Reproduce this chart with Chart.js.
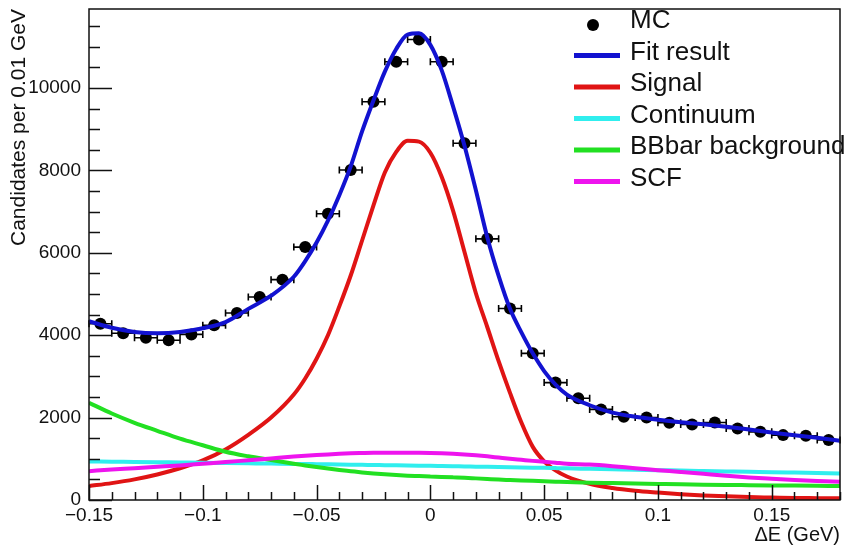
<!DOCTYPE html>
<html>
<head>
<meta charset="utf-8">
<script src="https://cdn.jsdelivr.net/npm/chart.js@4/dist/chart.umd.min.js"></script>
<style>
  html, body { margin: 0; padding: 0; background: #fff; }
  #idCanv_dE { display: block; }
</style>
</head>
<body>
<canvas id="idCanv_dE" width="846" height="545"></canvas>
<script>
// MC histogram, bins of 0.01 GeV
const mcX = [-0.145, -0.135, -0.125, -0.115, -0.105, -0.095, -0.085, -0.075, -0.065, -0.055, -0.045, -0.035, -0.025, -0.015, -0.005, 0.005, 0.015, 0.025, 0.035, 0.045, 0.055, 0.065, 0.075, 0.085, 0.095, 0.105, 0.115, 0.125, 0.135, 0.145, 0.155, 0.165, 0.175];
const mcY = [4280, 4050, 3940, 3880, 4020, 4240, 4540, 4930, 5350, 6140, 6950, 8010, 9670, 10640, 11180, 10640, 8660, 6340, 4650, 3560, 2850, 2470, 2200, 2020, 2000, 1875, 1835, 1880, 1735, 1655, 1575, 1560, 1455];
const binHalfWidth = 0.005;

// fit curves
const curveX = [-0.15, -0.14, -0.13, -0.12, -0.11, -0.1, -0.09, -0.08, -0.07, -0.06, -0.055, -0.05, -0.045, -0.04, -0.035, -0.03, -0.025, -0.02, -0.015, -0.01, -0.005, 0, 0.005, 0.01, 0.015, 0.02, 0.025, 0.03, 0.035, 0.04, 0.045, 0.05, 0.055, 0.06, 0.07, 0.08, 0.09, 0.1, 0.11, 0.12, 0.13, 0.14, 0.15, 0.16, 0.17, 0.18];
const fitY = [4340, 4180, 4080, 4050, 4080, 4170, 4320, 4640, 4960, 5420, 5800, 6250, 6780, 7400, 8100, 8950, 9700, 10400, 10950, 11300, 11330, 11050, 10430, 9550, 8600, 7520, 6380, 5440, 4640, 4070, 3560, 3130, 2800, 2560, 2300, 2120, 2020, 1950, 1890, 1840, 1780, 1710, 1640, 1570, 1510, 1440];
const signalY = [339, 410, 501, 620, 770, 960, 1225, 1580, 2000, 2560, 2950, 3430, 4000, 4700, 5450, 6300, 7150, 7950, 8450, 8720, 8700, 8430, 7840, 7020, 6020, 5020, 4200, 3370, 2600, 1880, 1290, 940, 720, 570, 390, 290, 225, 180, 140, 110, 90, 70, 60, 50, 45, 40];
const continuumY = [935, 929, 923, 917, 911, 905, 898, 891, 884, 877, 874, 870, 866, 862, 858, 854, 850, 846, 842, 838, 834, 830, 825, 820, 815, 810, 805, 800, 795, 790, 785, 780, 774, 768, 757, 746, 735, 725, 714, 704, 694, 684, 675, 665, 655, 645];
const bbbarY = [2360, 2100, 1875, 1680, 1490, 1330, 1170, 1060, 970, 880, 840, 800, 765, 730, 700, 670, 645, 625, 605, 590, 580, 570, 560, 550, 540, 525, 510, 495, 485, 475, 465, 455, 445, 435, 420, 410, 400, 390, 380, 372, 365, 360, 355, 350, 345, 340];
const scfY = [700, 740, 770, 805, 840, 880, 920, 965, 1010, 1055, 1075, 1090, 1105, 1120, 1132, 1140, 1147, 1150, 1150, 1148, 1145, 1140, 1132, 1120, 1105, 1085, 1060, 1030, 1000, 975, 950, 930, 905, 880, 860, 820, 770, 725, 680, 635, 590, 548, 515, 485, 460, 444];

// axes
const xRange = [-0.15, 0.18];
const yRange = [0, 11920];
const xTicks = [-0.15, -0.1, -0.05, 0, 0.05, 0.1, 0.15];
const xTickLabels = ["\u22120.15", "\u22120.1", "\u22120.05", "0", "0.05", "0.1", "0.15"];
const yTicks = [0, 2000, 4000, 6000, 8000, 10000];
const xMinorStep = 0.01;
const yMinorStep = 500;

const fontFamily = "'Liberation Sans', Arial, Helvetica, sans-serif";

const toXY = (xs, ys) => xs.map((x, i) => ({ x, y: ys[i] }));

function curveSet(label, data, color, order) {
  return {
    type: "line",
    label,
    data: toXY(curveX, data),
    borderColor: color,
    backgroundColor: color,
    borderWidth: 4,
    pointRadius: 0,
    cubicInterpolationMode: "monotone",
    fill: false,
    order,
  };
}

// horizontal error bars of the MC points
const errorBars = {
  id: "errorBars",
  beforeDatasetsDraw(chart) {
    const { ctx, scales } = chart;
    ctx.save();
    ctx.strokeStyle = "#000";
    ctx.lineWidth = 1.6;
    ctx.beginPath();
    mcX.forEach((x, i) => {
      const x0 = scales.x.getPixelForValue(x - binHalfWidth);
      const x1 = scales.x.getPixelForValue(x + binHalfWidth);
      const py = scales.y.getPixelForValue(mcY[i]);
      ctx.moveTo(x0, py);
      ctx.lineTo(x1, py);
      ctx.moveTo(x0, py - 3.5);
      ctx.lineTo(x0, py + 3.5);
      ctx.moveTo(x1, py - 3.5);
      ctx.lineTo(x1, py + 3.5);
    });
    ctx.stroke();
    ctx.restore();
  },
};

// ROOT-like frame with inner ticks
const frameTicks = {
  id: "frameTicks",
  afterDatasetsDraw(chart) {
    const { ctx, chartArea: a, scales } = chart;
    ctx.save();
    ctx.strokeStyle = "#111";
    ctx.lineWidth = 1.5;
    ctx.strokeRect(a.left, a.top, a.right - a.left, a.bottom - a.top);
    ctx.beginPath();
    const nx = Math.round((xRange[1] - xRange[0]) / xMinorStep);
    for (let i = 0; i <= nx; i++) {
      const v = xRange[0] + i * xMinorStep;
      const major = xTicks.some((t) => Math.abs(t - v) < 1e-6);
      const px = Math.round(scales.x.getPixelForValue(v)) + 0.5;
      ctx.moveTo(px, a.bottom);
      ctx.lineTo(px, a.bottom - (major ? 15 : 8));
    }
    for (let v = 0; v <= yRange[1]; v += yMinorStep) {
      const major = yTicks.includes(v);
      const py = Math.round(scales.y.getPixelForValue(v)) + 0.5;
      ctx.moveTo(a.left, py);
      ctx.lineTo(a.left + (major ? 23 : 11), py);
    }
    ctx.stroke();
    ctx.restore();
  },
};

// legend in the top right corner
const rootLegend = {
  id: "rootLegend",
  afterDraw(chart) {
    const { ctx } = chart;
    const sets = chart.data.datasets;
    ctx.save();
    ctx.font = "26px " + fontFamily;
    ctx.textBaseline = "middle";
    ctx.textAlign = "left";
    sets.forEach((ds, i) => {
      const cy = 21 + i * 31.5;
      if (ds.showLine === false) {
        ctx.fillStyle = "#000";
        ctx.beginPath();
        ctx.arc(593, cy + 4, 6, 0, Math.PI * 2);
        ctx.fill();
      } else {
        ctx.strokeStyle = ds.borderColor;
        ctx.lineWidth = 5;
        ctx.beginPath();
        ctx.moveTo(574, cy + 3);
        ctx.lineTo(620, cy + 3);
        ctx.stroke();
      }
      ctx.fillStyle = "#111";
      ctx.fillText(ds.label, 630, cy);
    });
    ctx.restore();
  },
};

const dEChart = {
  config: {
    type: "scatter",
    data: {
      datasets: [
        {
          type: "scatter",
          label: "MC",
          data: toXY(mcX, mcY),
          showLine: false,
          pointStyle: "circle",
          pointRadius: 6,
          pointBackgroundColor: "#000",
          pointBorderWidth: 0,
          backgroundColor: "#000",
          order: 6,
        },
        curveSet("Fit result", fitY, "#1212d0", 5),
        curveSet("Signal", signalY, "#e01414", 4),
        curveSet("Continuum", continuumY, "#30eeee", 3),
        curveSet("BBbar background", bbbarY, "#22e022", 2),
        curveSet("SCF", scfY, "#ee14ee", 1),
      ],
    },
    options: {
      responsive: false,
      animation: false,
      devicePixelRatio: 1,
      layout: {
        padding: { top: 9, right: 2, left: 0, bottom: 0 },
      },
      plugins: {
        legend: { display: false },
        tooltip: { enabled: false },
      },
      scales: {
        x: {
          type: "linear",
          min: xRange[0],
          max: xRange[1],
          grid: { display: false, drawTicks: false },
          border: { display: false },
          afterBuildTicks: (scale) => {
            scale.ticks = xTicks.map((value) => ({ value }));
          },
          afterFit: (scale) => {
            scale.height = 45;
            scale.paddingLeft = 0;
            scale.paddingRight = 0;
          },
          ticks: {
            padding: 4,
            maxRotation: 0,
            autoSkip: false,
            color: "#111",
            font: { family: fontFamily, size: 19 },
            callback: (value) => xTickLabels[xTicks.findIndex((t) => Math.abs(t - value) < 1e-9)],
          },
          title: {
            display: true,
            text: "\u0394E (GeV)",
            align: "end",
            color: "#111",
            font: { family: fontFamily, size: 20, lineHeight: 1 },
            padding: { top: 0, bottom: 0 },
          },
        },
        y: {
          type: "linear",
          min: yRange[0],
          max: yRange[1],
          grid: { display: false, drawTicks: false },
          border: { display: false },
          afterBuildTicks: (scale) => {
            scale.ticks = yTicks.map((value) => ({ value }));
          },
          afterFit: (scale) => {
            scale.width = 89;
            scale.paddingTop = 0;
            scale.paddingBottom = 0;
          },
          ticks: {
            padding: 8,
            color: "#111",
            font: { family: fontFamily, size: 19 },
            callback: (value) => String(value),
          },
          title: {
            display: true,
            text: "Candidates per 0.01 GeV",
            align: "end",
            color: "#111",
            font: { family: fontFamily, size: 21, lineHeight: 1 },
            padding: { top: 9, bottom: 0 },
          },
        },
      },
    },
    plugins: [errorBars, frameTicks, rootLegend],
  },
  canvas: null,
};

dEChart.canvas = new Chart(document.getElementById("idCanv_dE"), dEChart.config);
</script>
</body>
</html>
